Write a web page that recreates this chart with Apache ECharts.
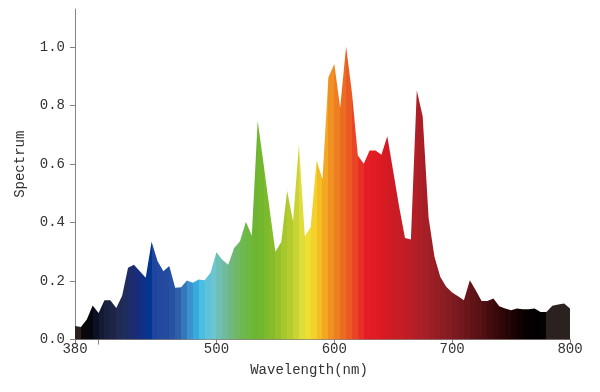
<!DOCTYPE html>
<html>
<head>
<meta charset="utf-8">
<script src="https://cdn.jsdelivr.net/npm/echarts@6/dist/echarts.min.js"></script>
<style>html,body{margin:0;padding:0;background:#fff}#c{width:600px;height:392px}</style>
</head>
<body>
<div id="c"></div>
<script>
// Wavelengths (nm), 5 nm steps
const wavelengths = [380,385,390,395,400,405,410,415,420,425,430,435,440,445,450,455,460,465,470,475,480,485,490,495,500,505,510,515,520,525,530,535,540,545,550,555,560,565,570,575,580,585,590,595,600,605,610,615,620,625,630,635,640,645,650,655,660,665,670,675,680,685,690,695,700,705,710,715,720,725,730,735,740,745,750,755,760,765,770,775,780,785,790,795,800];
// Relative spectrum values
const spectrum = [0.046,0.043,0.068,0.116,0.091,0.134,0.134,0.108,0.150,0.245,0.256,0.233,0.211,0.334,0.268,0.233,0.251,0.177,0.179,0.202,0.194,0.205,0.203,0.228,0.298,0.273,0.256,0.313,0.336,0.403,0.355,0.748,0.600,0.450,0.300,0.333,0.509,0.404,0.666,0.353,0.385,0.612,0.547,0.897,0.942,0.792,1.002,0.843,0.629,0.601,0.646,0.646,0.632,0.695,0.575,0.455,0.347,0.342,0.851,0.763,0.417,0.283,0.214,0.180,0.161,0.148,0.134,0.203,0.168,0.132,0.132,0.140,0.114,0.106,0.100,0.106,0.103,0.103,0.106,0.094,0.094,0.115,0.120,0.123,0.106];
// Axis ticks / labels
const xTicks = [380,400,500,600,700,800];
const xLabels = [380,500,600,700,800];
const yTicks = [0,0.2,0.4,0.6,0.8,1.0];
// Colour of each 5 nm strip (strip i spans wavelengths[i]..wavelengths[i+1])
const stripColors = ['#2b2220','#0a0808','#06060e','#0b1024','#141a35','#1a213f','#1d2446','#202a52','#1f2c5e','#1d2d6b','#182c7a','#103088','#03378f','#1f45a0','#23489f','#244aa0',
'#2850a3','#2d5fab','#3677bb','#3a93cf','#37abe0','#4abfe2','#60c3dd','#6cc5cf','#6ebfb5','#6fbb9b','#71b87f','#70b865','#6eb850','#6db83e','#6db532','#72b72e','#7cba2d',
'#87bc2c','#95c12b','#a6c82c','#b5cc2f','#c8d436','#dfdc3c','#efdf33','#f4d02b','#f4bd22','#f3a723','#f19123','#ee7e21','#ec6c21','#ea5a22','#e94425','#e82e27',
'#e51d25','#e31b23','#de1a22','#d81a23','#d11b24','#ca1c24','#c41d25','#bd1e25','#b51e26','#ad1f26','#a51f26','#9d1f25','#951e24','#8c1d23','#841c22','#7b1a20','#72181e',
'#6a161b','#611418','#581215','#4e0f12','#440c0e','#3a0a0b','#300708','#250505','#1a0303','#100202','#080101','#030101','#020202','#030303','#2b2220','#2b2220','#2b2220','#2b2220'];

const data = wavelengths.map((w, i) => [w, spectrum[i]]);
const x0 = wavelengths[0], x1 = wavelengths[wavelengths.length - 1];
const stops = [];
for (let i = 0; i < wavelengths.length - 1; i++) {
  const a = (wavelengths[i] - x0) / (x1 - x0);
  const b = (wavelengths[i + 1] - x0) / (x1 - x0);
  const c = stripColors[i] || '#2b2220';
  stops.push({offset: a, color: c});
  stops.push({offset: b, color: c});
}

const font = '"Liberation Mono", "DejaVu Sans Mono", monospace';
const axisColor = '#8a817e';
const textColor = '#333';

const chart = echarts.init(document.getElementById('c'), null, {renderer: 'canvas'});
chart.setOption({
  animation: false,
  backgroundColor: '#fff',
  grid: {left: 75, right: 30, top: 9, bottom: 52.5, containLabel: false},
  xAxis: {
    type: 'value', min: 380, max: 800,
    name: 'Wavelength(nm)', nameLocation: 'middle', nameGap: 24,
    nameTextStyle: {fontFamily: font, fontSize: 14, color: textColor, verticalAlign: 'top', padding: [0, 27, 0, 0]},
    axisLine: {show: true, lineStyle: {color: axisColor, width: 1}},
    axisTick: {show: true, length: 5, lineStyle: {color: axisColor}, customValues: xTicks},
    axisLabel: {fontFamily: font, fontSize: 14, color: textColor, margin: 3, customValues: xLabels},
    splitLine: {show: false}
  },
  yAxis: {
    type: 'value', min: 0, max: 1.13,
    name: 'Spectrum', nameLocation: 'middle', nameGap: 48,
    nameTextStyle: {fontFamily: font, fontSize: 14, color: textColor, padding: [0, 0, 0, 20]},
    axisLine: {show: true, lineStyle: {color: axisColor, width: 1}},
    axisTick: {show: true, length: 5, lineStyle: {color: axisColor}, customValues: yTicks},
    axisLabel: {fontFamily: font, fontSize: 14, color: textColor, margin: 10, customValues: yTicks,
      formatter: v => v.toFixed(1)},
    splitLine: {show: false}
  },
  series: [{
    type: 'line',
    data: data,
    showSymbol: false,
    symbol: 'none',
    lineStyle: {width: 0},
    areaStyle: {
      opacity: 1,
      color: {type: 'linear', x: 0, y: 0, x2: 1, y2: 0, colorStops: stops}
    },
    silent: true
  }]
});
</script>
</body>
</html>
